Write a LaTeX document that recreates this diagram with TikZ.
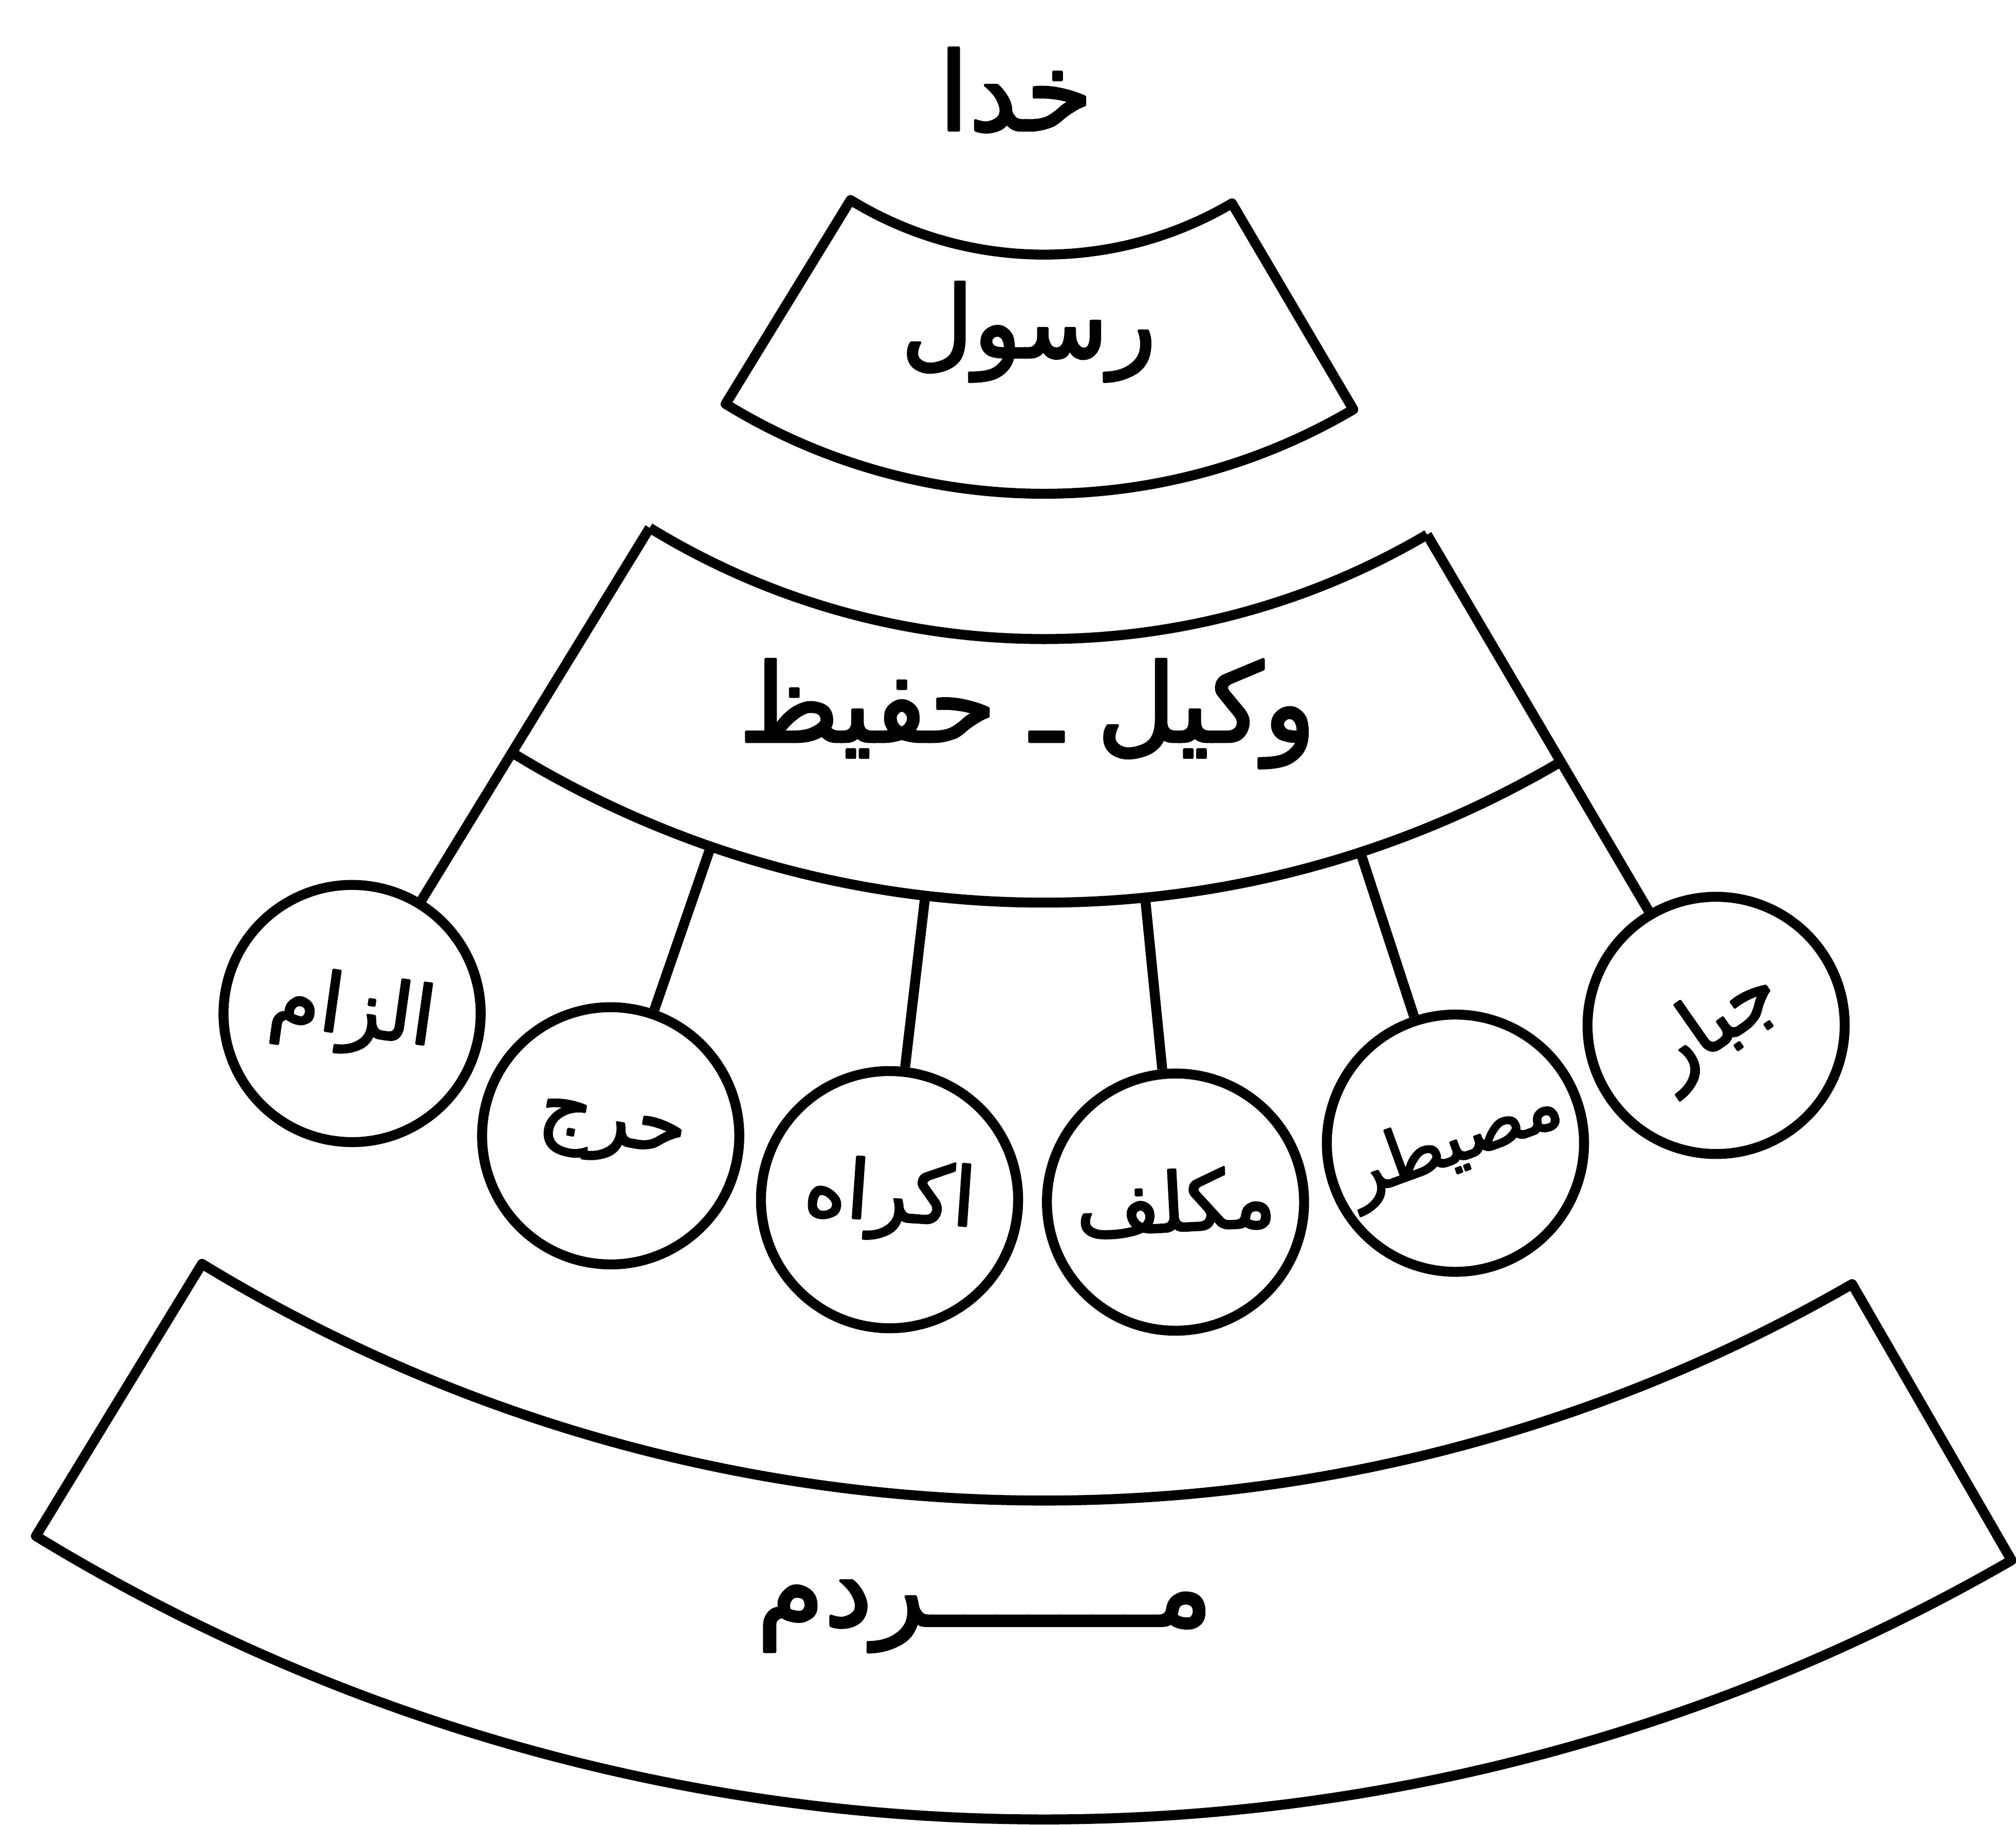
\documentclass[tikz,border=0pt]{standalone}
\usepackage{fontspec}
\newfontfamily\arabicfont[Script=Arabic,FakeBold=2.5]{DejaVu Sans}
\TeXXeTstate=1
\begin{document}
\begin{tikzpicture}[line width=2.2pt,line join=round,
    band label/.style={font=\arabicfont\fontsize{24}{28}\selectfont},
    disc/.style={draw,circle,minimum size=2cm,inner sep=0pt,font=\arabicfont\fontsize{18}{21}\selectfont}]
  \useasboundingbox (0,0) rectangle (15.68,-14.19);
  \coordinate (o) at (8.12,0.9);
  \node[band label] (khoda) at (7.9,-0.7) {\beginR خدا\endR};
  \node[band label,font=\arabicfont\fontsize{22}{26}\selectfont] (rasul) at (8.0,-2.58) {\beginR رسول\endR};
  \node[band label] (vakil) at (7.99,-5.55) {\beginR وکیل ـ حفیظ\endR};
  \node[band label] (mardom) at (7.66,-12.57) {\beginR مـــــــردم\endR};
  \begin{scope}[shift={(o)}]
    \draw (238.5:2.88) arc[start angle=238.5,end angle=300.5,radius=2.88]
      -- (300.5:4.74) arc[start angle=300.5,end angle=238.5,radius=4.74] -- cycle;
    \draw (238.5:5.87) arc[start angle=238.5,end angle=300.5,radius=5.87];
    \draw (238.5:7.92) arc[start angle=238.5,end angle=300.5,radius=7.92];
    \draw (238.6:12.57) arc[start angle=238.6,end angle=300,radius=12.57]
      -- (300:15.05) arc[start angle=300,end angle=238.6,radius=15.05] -- cycle;
    \foreach \name/\txt/\tilt/\size [count=\i from 0] in {alzam/الزام/-8/18,haraj/حرج/-10/18,ekrah/اکراه/-4/18,mokallaf/مکلف/3/18,mosaytar/مصیطر/20/16,jabbar/جبار/35/18}
      \node[disc,rotate=\tilt,font=\arabicfont\fontsize{\size}{21}\selectfont] (\name) at ({238.5+12.4*\i}:10.3) {\beginR\txt\endR};
    \coordinate (m0) at (238.5:5.87);
    \coordinate (m5) at (300.5:5.87);
    \foreach \name [count=\i] in {haraj,ekrah,mokallaf,mosaytar}
      \coordinate (d\i) at ({238.5+12.4*\i}:7.92);
  \end{scope}
  \draw (m0) -- (alzam);
  \draw (m5) -- (jabbar);
  \foreach \name [count=\i] in {haraj,ekrah,mokallaf,mosaytar}
    \draw (d\i) -- (\name);
\end{tikzpicture}
\end{document}
